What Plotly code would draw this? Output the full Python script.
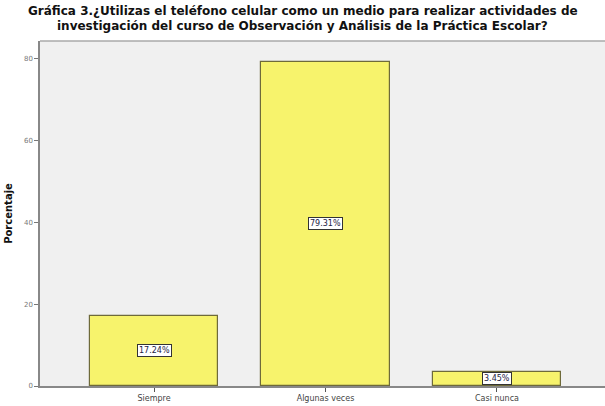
import plotly.graph_objects as go

categories = ["Siempre", "Algunas veces", "Casi nunca"]
values = [17.24, 79.31, 3.45]
labels = ["17.24%", "79.31%", "3.45%"]
y_ticks = [0, 20, 40, 60, 80]

title_lines = [
    "Gráfica 3.¿Utilizas el teléfono celular como un medio para realizar actividades de",
    "investigación del curso de Observación y Análisis de la Práctica Escolar?",
]

W, H = 605, 406
ML, MR, MT, MB = 40, 0, 41, 20
PW = W - ML - MR
PH = H - MT - MB

fig = go.Figure()
fig.add_trace(go.Bar(
    x=list(range(len(categories))), y=values, width=0.75,
    marker=dict(color="#f7f36c", line=dict(color="#6e6a3a", width=1.2)),
    hoverinfo="skip", showlegend=False,
))

for i, (v, lab) in enumerate(zip(values, labels)):
    fig.add_annotation(
        x=i, y=v / 2, text=lab, showarrow=False,
        font=dict(family="DejaVu Sans", size=8, color="#222244"),
        bgcolor="white", bordercolor="#333333", borderwidth=1, borderpad=1,
    )

for line, cy in zip(title_lines, [11.5, 26]):
    fig.add_annotation(
        xref="paper", yref="paper", x=(W / 2 - ML) / PW,
        y=1 + (MT - cy) / PH, xanchor="center", yanchor="middle",
        text="<b>" + line + "</b>", showarrow=False,
        font=dict(family="DejaVu Sans", size=12, color="#111111"),
    )

fig.update_layout(
    width=W, height=H,
    margin=dict(l=ML, r=MR, t=MT, b=MB),
    paper_bgcolor="white", plot_bgcolor="#f0f0f0",
    bargap=0,
)
fig.update_xaxes(
    range=[-0.665, 2.63], tickmode="array", tickvals=list(range(len(categories))),
    ticktext=categories, ticks="outside", ticklen=4, tickcolor="#555555",
    showline=True, linecolor="#888888", linewidth=1.5, showgrid=False, zeroline=False,
    tickfont=dict(family="DejaVu Sans", size=8, color="#444444"),
)
fig.update_yaxes(
    range=[0, 84.4], tickmode="array", tickvals=y_ticks,
    ticks="outside", ticklen=4, tickcolor="#777777",
    showline=True, linecolor="#888888", linewidth=1.5, showgrid=False, zeroline=False,
    tickfont=dict(family="DejaVu Sans", size=7, color="#777777"),
    title=dict(text="<b>Porcentaje</b>", standoff=9,
               font=dict(family="DejaVu Sans", size=10, color="#111111")),
)
fig.add_shape(type="line", xref="paper", yref="paper", x0=0, x1=1, y0=1, y1=1,
              line=dict(color="#aaaaaa", width=1.5))

fig.write_html("out.html", config={"displayModeBar": False},
               post_script="document.body.style.margin='0';")
